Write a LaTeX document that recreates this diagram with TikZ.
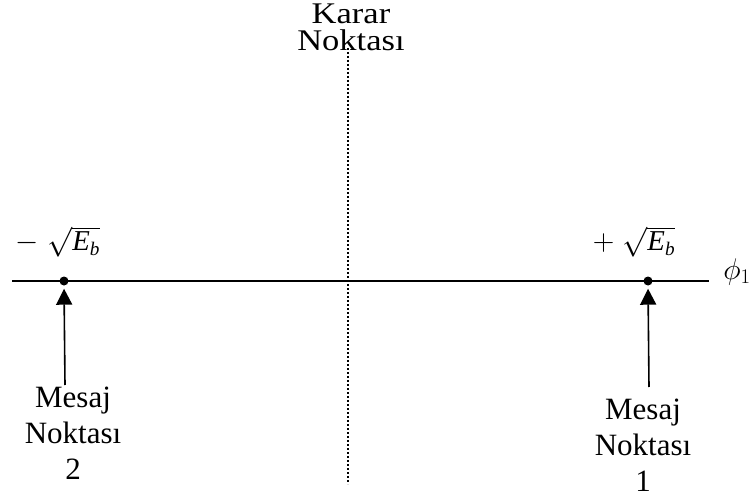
\documentclass[tikz,border=0pt]{standalone}
\usepackage{fontspec}
\setmainfont{Liberation Serif}
\newfontfamily\widefont[FakeStretch=1.15]{Liberation Serif}
\usetikzlibrary{arrows.meta}
\newcommand{\EbSym}{\hbox{\itshape E}_{\hbox{\itshape\fontsize{16}{16}\selectfont b}}}

\begin{document}
\begin{tikzpicture}[
    x=1pt, y=-1pt,
    lbl/.style={inner sep=0pt, align=center, anchor=north,
                font=\fontsize{31}{36}\selectfont},
    toplbl/.style={lbl, font=\widefont\fontsize{30}{26.5}\selectfont},
    mlbl/.style={inner sep=0pt, font=\fontsize{24}{28}\selectfont, scale=1.2},
    dot/.style={circle, fill=black, inner sep=0pt, minimum size=9pt},
    axis/.style={line width=1.6pt},
    arr/.style={line width=1.6pt, -{Triangle[length=16pt,width=16pt]}, shorten >=3pt},
    decision/.style={line width=1.3pt, dash pattern=on 2pt off 2pt}
  ]
    \useasboundingbox (0,0) rectangle (753,503);

    % axis and the two message points
    \coordinate (axL) at (12,281);
    \coordinate (axR) at (709,281);
    \draw[axis] (axL) -- (axR);
    \node[mlbl] (phi) at (737,272) {$\phi_1$};

    \node[dot] (m2) at (64,281) {};
    \node[dot] (m1) at (648,281) {};
    \node[mlbl] (neg) at (58,242) {$-\;\sqrt{\EbSym}$};
    \node[mlbl] (pos) at (634,242) {$+\;\sqrt{\EbSym}$};

    % decision boundary
    \node[toplbl] (karar) at (351,4) {Karar\\Noktası};
    \coordinate (dtop) at (348,48);
    \coordinate (dbot) at (348,484);
    \draw[decision] (dtop) -- (dbot);

    % message labels with arrows
    \node[lbl] (msg2) at (73,387) {Mesaj\\Noktası\\2};
    \node[lbl] (msg1) at (643,399) {Mesaj\\Noktası\\1};
    \coordinate (a2) at (65,385);
    \coordinate (a1) at (649,387);
    \draw[arr] (a2) -- (m2.south);
    \draw[arr] (a1) -- (m1.south);
  \end{tikzpicture}
\end{document}
